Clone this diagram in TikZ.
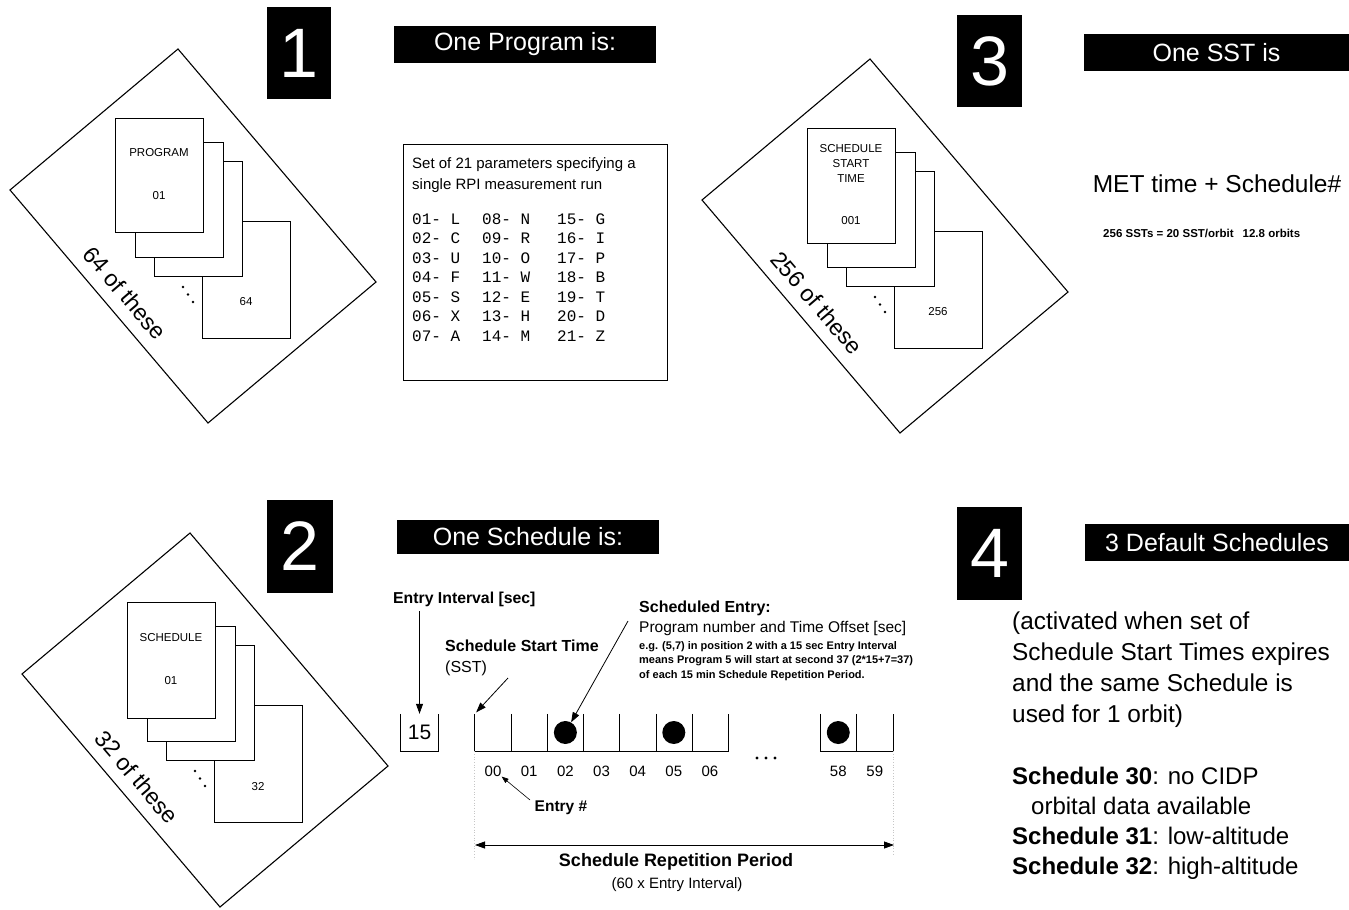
\documentclass[tikz,border=0pt]{standalone}
\usepackage{fontspec}
\setmainfont{Liberation Sans}
\newfontfamily\monofont{Liberation Mono}
\usetikzlibrary{arrows.meta}
\tikzset{
  diam/.style={draw, line width=1.1pt, line join=miter},
  card/.style={draw, fill=white, line width=0.8pt, inner sep=0pt, anchor=north west, minimum width=88pt, minimum height=115pt},
  numbox/.style={fill=black, text=white, inner sep=0pt, font=\fontsize{70}{70}\selectfont},
  banner/.style={fill=black, text=white, inner sep=0pt, font=\fontsize{25}{25}\selectfont},
  cardtxt/.style={font=\fontsize{11.5}{15}\selectfont, align=center, inner sep=0pt},
  ofthese/.style={font=\fontsize{23}{23}\selectfont, rotate=-49.5, inner sep=0pt},
  mono/.style={font=\monofont\fontsize{16}{19}\selectfont, inner sep=0pt, anchor=base west},
  txt/.style={inner sep=0pt, anchor=base west},
  cell/.style={inner sep=0pt, minimum width=36.15pt, minimum height=37pt},
  dot/.style={circle, fill=black, inner sep=0pt, minimum size=23pt},
  arr/.style={-{Triangle[length=10pt,width=7pt]}, line width=0.8pt},
  arrs/.style={-{Triangle[length=7pt,width=5pt]}, line width=0.6pt},
  guide/.style={gray!45, dotted, line width=0.7pt},
  tinydot/.style={fill=black}
}
\begin{document}
\begin{tikzpicture}[x=1pt,y=-1pt]
\fill[white] (0,0) rectangle (1349,910);
\useasboundingbox (0,0) rectangle (1349,910);

% ---------------- stack 1: programs ----------------
\begin{scope}
  \draw[diam] (10,190) -- (178,49) -- (376,282) -- (208,423) -- cycle;
  \node[card, minimum height=117pt] (p4) at (202,221) {};
  \node[card] (p3) at (154,161) {};
  \node[card] (p2) at (135,142) {};
  \node[card, minimum height=114pt] (p1) at (115,118) {};
  \node[cardtxt] (p1t) at (159,153) {PROGRAM};
  \node[cardtxt] (p1n) at (159,196) {01};
  \node[cardtxt] (p4n) at (246,302) {64};
  \fill[tinydot] (183,287) circle (1.4) (188,294.5) circle (1.4) (193,302) circle (1.4);
  \node[ofthese] (p64) at (125,293) {64 of these};
\end{scope}

% ---------------- stack 2: schedules ----------------
\begin{scope}[shift={(12,484)}]
  \draw[diam] (10,190) -- (178,49) -- (376,282) -- (208,423) -- cycle;
  \node[card, minimum height=117pt] (s4) at (202,221) {};
  \node[card] (s3) at (154,161) {};
  \node[card] (s2) at (135,142) {};
  \node[card, minimum height=116pt] (s1) at (115,118) {};
  \node[cardtxt] (s1t) at (159,154) {SCHEDULE};
  \node[cardtxt] (s1n) at (159,197) {01};
  \node[cardtxt] (s4n) at (246,303) {32};
  \fill[tinydot] (183,287) circle (1.4) (188,294.5) circle (1.4) (193,302) circle (1.4);
  \node[ofthese] (s32) at (125,293) {32 of these};
\end{scope}

% ---------------- stack 3: SSTs ----------------
\begin{scope}[shift={(692,10)}]
  \draw[diam] (10,190) -- (178,49) -- (376,282) -- (208,423) -- cycle;
  \node[card, minimum height=117pt] (t4) at (202,221) {};
  \node[card] (t3) at (154,161) {};
  \node[card] (t2) at (135,142) {};
  \node[card] (t1) at (115,118) {};
  \node[cardtxt] (t1t) at (159,153) {SCHEDULE\\START\\TIME};
  \node[cardtxt] (t1n) at (159,211) {001};
  \node[cardtxt] (t4n) at (246,302) {256};
  \fill[tinydot] (183,287) circle (1.4) (188,294.5) circle (1.4) (193,302) circle (1.4);
  \node[ofthese] (t256) at (125,293) {256 of these};
\end{scope}

% ---------------- number boxes ----------------
\node[numbox, minimum width=64pt, minimum height=92pt] (n1) at (299,53) {1};
\node[numbox, minimum width=66pt, minimum height=93pt] (n2) at (300,546.5) {2};
\node[numbox, minimum width=65pt, minimum height=92pt] (n3) at (989.5,61) {3};
\node[numbox, minimum width=65pt, minimum height=93pt] (n4) at (989.5,553.5) {4};

% ---------------- banners ----------------
\node[banner, minimum width=262pt, minimum height=37pt] (b1) at (525,44.5) {One Program is:};
\node[banner, minimum width=262pt, minimum height=34pt] (b2) at (528,537) {One Schedule is:};
\node[banner, minimum width=265pt, minimum height=37pt] (b3) at (1216.5,52.5) {One SST is};
\node[banner, minimum width=264pt, minimum height=37pt] (b4) at (1217,542.5) {3 Default Schedules};

% ---------------- program parameters ----------------
\node[draw, line width=0.8pt, minimum width=264pt, minimum height=236pt, inner sep=0pt] (pbox) at (535,262) {};
\node[txt, font=\fontsize{15}{15}\selectfont] (pt1) at (412,168) {Set of 21 parameters specifying a};
\node[txt, font=\fontsize{15}{15}\selectfont] (pt2) at (412,189) {single RPI measurement run};
\foreach \a/\b/\c [count=\i from 0] in {01- L/08- N/15- G, 02- C/09- R/16- I, 03- U/10- O/17- P, 04- F/11- W/18- B, 05- S/12- E/19- T, 06- X/13- H/20- D, 07- A/14- M/21- Z}{
  \node[mono] (ma\i) at (412,224+19.5*\i) {\a};
  \node[mono] (mb\i) at (482,224+19.5*\i) {\b};
  \node[mono] (mc\i) at (557,224+19.5*\i) {\c};
}

% ---------------- SST ----------------
\node[inner sep=0pt, anchor=base, font=\fontsize{24.5}{24.5}\selectfont] (met) at (1217,192) {MET time + Schedule\#};
\node[txt, font=\bfseries\fontsize{11.5}{11.5}\selectfont] (sstn) at (1103,237) {256 SSTs = 20 SST/orbit\hspace{9pt}12.8 orbits};

% ---------------- schedule ----------------
\node[cell, minimum width=37pt] (n15) at (419.5,732.5) {};
\node[inner sep=0pt, font=\fontsize{21}{21}\selectfont] (n15t) at (419.5,732.5) {15};
\draw[line width=0.8pt] (n15.north west) -- (n15.south west) -- (n15.south east) -- (n15.north east);

\foreach \i in {0,...,6}{
  \node[cell] (c\i) at (493.07+36.15*\i,732.5) {};
}
\node[cell] (c58) at (838.25,732.5) {};
\node[cell] (c59) at (874.75,732.5) {};
\draw[line width=0.8pt] (c0.north west) -- (c0.south west) -- (c6.south east) -- (c6.north east);
\foreach \i in {0,...,5}{ \draw[line width=0.8pt] (c\i.north east) -- (c\i.south east); }
\draw[line width=0.8pt] (c58.north west) -- (c58.south west) -- (c59.south east) -- (c59.north east);
\draw[line width=0.8pt] (c58.north east) -- (c58.south east);

\node[dot] (d2) at (c2) {};
\node[dot] (d5) at (c5) {};
\node[dot] (d58) at (c58) {};

\foreach \i/\l in {0/00,1/01,2/02,3/03,4/04,5/05,6/06}{
  \node[inner sep=0pt, font=\fontsize{15}{15}\selectfont] (l\i) at (493.07+36.15*\i,771) {\l};
}
\node[inner sep=0pt, font=\fontsize{15}{15}\selectfont] (l58) at (838.25,771) {58};
\node[inner sep=0pt, font=\fontsize{15}{15}\selectfont] (l59) at (874.75,771) {59};
\fill[tinydot] (757,758) circle (1.6) (766,758) circle (1.6) (775,758) circle (1.6);

\draw[guide] (c0.south west) -- ++(0,108);
\draw[guide] (c59.south east) -- ++(0,105);

% labels and arrows
\node[txt, font=\bfseries\fontsize{15.8}{15.8}\selectfont] (eint) at (393,603) {Entry Interval [sec]};
\draw[arr] (n15.north |- eint.south) ++(0,5) -- (n15.north);

\node[txt, font=\bfseries\fontsize{16}{16}\selectfont] (sst1) at (445,651) {Schedule Start Time};
\node[txt, font=\fontsize{16}{16}\selectfont] (sst2) at (445,672) {(SST)};
\coordinate (sstA) at (508,678);
\draw[arr, shorten >=2pt] (sstA) -- (c0.north west);

\node[txt, font=\bfseries\fontsize{16}{16}\selectfont] (se1) at (639,612) {Scheduled Entry:};
\node[txt, font=\fontsize{15.5}{15.5}\selectfont] (se2) at (639,632) {Program number and Time Offset [sec]};
\node[txt, font=\bfseries\fontsize{11}{11}\selectfont] (se3) at (639,649) {e.g. (5,7) in position 2 with a 15 sec Entry Interval};
\node[txt, font=\bfseries\fontsize{11}{11}\selectfont] (se4) at (639,663) {means Program 5 will start at second 37 (2*15+7=37)};
\node[txt, font=\bfseries\fontsize{11}{11}\selectfont] (se5) at (639,678) {of each 15 min Schedule Repetition Period.};
\coordinate (seA) at (628,621);
\draw[arr] (seA) -- (d2);

\node[inner sep=0pt, font=\bfseries\fontsize{15.5}{15.5}\selectfont] (entry) at (561,808) {Entry \#};
\coordinate (eA) at (530,800);
\draw[arrs] (eA) -- (l0.south east);

\coordinate (rpL) at (475,845);
\coordinate (rpR) at (894,845);
\draw[{Triangle[length=10pt,width=7pt]}-{Triangle[length=10pt,width=7pt]}, line width=0.8pt] (rpL) -- (rpR);
\node[inner sep=0pt, font=\bfseries\fontsize{18}{18}\selectfont] (rp1) at (676,862) {Schedule Repetition Period};
\node[inner sep=0pt, font=\fontsize{15}{15}\selectfont] (rp2) at (677,885) {(60 x Entry Interval)};

% ---------------- default schedules ----------------
\node[txt, font=\fontsize{24.4}{24.4}\selectfont] (a1) at (1012,629) {(activated when set of};
\node[txt, font=\fontsize{24.4}{24.4}\selectfont] (a2) at (1012,660) {Schedule Start Times expires};
\node[txt, font=\fontsize{24.4}{24.4}\selectfont] (a3) at (1012,691) {and the same Schedule is};
\node[txt, font=\fontsize{24.4}{24.4}\selectfont] (a4) at (1012,722) {used for 1 orbit)};
\node[txt, font=\fontsize{24}{24}\selectfont] (ds1) at (1012,784) {\textbf{Schedule 30}: no CIDP};
\node[txt, font=\fontsize{24}{24}\selectfont] (ds1b) at (1031,814) {orbital data available};
\node[txt, font=\fontsize{24}{24}\selectfont] (ds2) at (1012,844) {\textbf{Schedule 31}: low-altitude};
\node[txt, font=\fontsize{24}{24}\selectfont] (ds3) at (1012,874) {\textbf{Schedule 32}: high-altitude};
\end{tikzpicture}
\end{document}
